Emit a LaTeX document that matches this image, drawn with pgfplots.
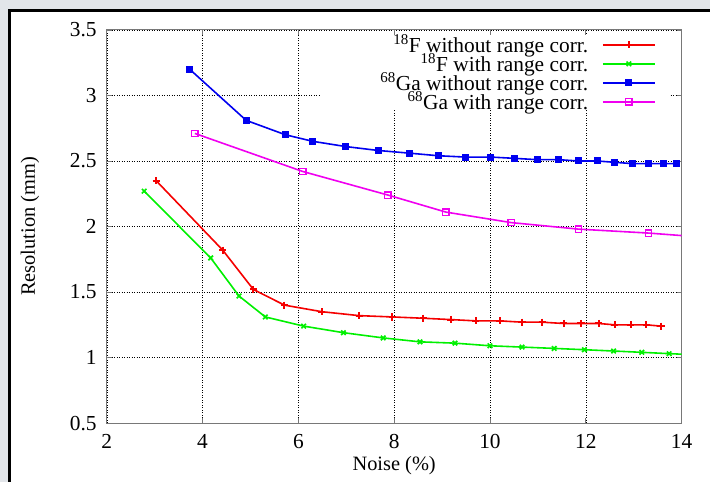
\documentclass[border=0pt]{standalone}
\usepackage{fontspec}
\setmainfont{Liberation Serif}
\usepackage{pgfplots}
\pgfplotsset{compat=1.18}

\definecolor{bggray}{RGB}{226,229,233}
\definecolor{gpred}{RGB}{245,0,0}
\definecolor{gpgreen}{RGB}{0,240,0}
\definecolor{gpblue}{RGB}{0,0,240}
\definecolor{gpmag}{RGB}{240,0,240}
\definecolor{boxgray}{RGB}{120,120,120}

\newcommand{\tickfont}{\fontsize{21.5}{21.5}\selectfont}
\newcommand{\lblfont}{\fontsize{20.5}{20.5}\selectfont}
\newcommand{\keyfont}{\fontsize{21.5}{21.5}\selectfont}

\begin{document}
\begin{tikzpicture}[x=1bp,y=1bp]
% page background and framed panel
\fill[bggray] (0,0) rectangle (711,483);
\fill[white] (10,0) rectangle (711,472);
\draw[line width=3bp] (10,0) -- (10,472) -- (711,472);

\begin{axis}[
  at={(107bp,59bp)}, anchor=south west,
  scale only axis, width=576bp, height=394bp,
  xmin=2, xmax=14, ymin=0.5, ymax=3.5,
  xtick={2,4,...,14}, ytick={0.5,1,...,3.5},
  axis line style={boxgray, line width=0.9bp},
  tick style={boxgray, line width=0.8bp},
  major tick length=5bp, tick align=inside,
  grid=major,
  major grid style={black, line width=0.5bp, dash pattern=on 1bp off 1.5bp},
  /pgf/number format/assume math mode=true,
  ticklabel style={font=\tickfont, inner sep=0pt},
  yticklabel style={xshift=-10bp},
  xticklabel style={yshift=-11bp},
  legend cell align=right, legend plot pos=right,
  legend image code/.code={
    \draw[mark repeat=2, mark phase=2, #1]
      plot coordinates {(0bp,0bp) (26bp,0bp) (52bp,0bp)};},
  legend style={draw=none, fill=none, at={(1,1)}, anchor=north east,
    xshift=-26bp, yshift=-5.5bp, inner sep=0pt, outer sep=0pt,
    font=\keyfont, row sep=0pt, /tikz/column sep=14bp,
    nodes={inner sep=0pt, text height=17bp, text depth=2bp}},
]

% 18F without range correction
\addplot[gpred, line width=1.6bp, mark=+, mark size=3.6bp,
  mark options={line width=2bp}] coordinates {
  (3.03,2.35) (4.42,1.82) (5.06,1.52) (5.71,1.40) (6.49,1.35)
  (7.27,1.32) (7.96,1.31) (8.61,1.30) (9.18,1.29) (9.70,1.28)
  (10.21,1.28) (10.67,1.27) (11.09,1.27) (11.54,1.26) (11.90,1.26)
  (12.27,1.26) (12.60,1.25) (12.94,1.25) (13.26,1.25) (13.57,1.24)};
\addlegendentry{\textsuperscript{18}F without range corr.}

% 18F with range correction
\addplot[gpgreen, line width=1.6bp, mark=x, mark size=3.2bp,
  mark options={line width=1.7bp}] coordinates {
  (2.78,2.27) (4.17,1.76) (4.76,1.47) (5.31,1.31) (6.11,1.24)
  (6.94,1.19) (7.77,1.15) (8.54,1.12) (9.27,1.11) (10.00,1.09)
  (10.67,1.08) (11.34,1.07) (11.97,1.06) (12.58,1.05) (13.17,1.04)
  (13.74,1.03) (14.35,1.02)};
\addlegendentry{\textsuperscript{18}F with range corr.}

% 68Ga without range correction
\addplot[gpblue, line width=1.6bp, mark=square*, mark size=2.7bp] coordinates {
  (3.73,3.20) (4.91,2.81) (5.73,2.70) (6.30,2.65) (6.99,2.61)
  (7.67,2.58) (8.31,2.56) (8.92,2.54) (9.48,2.53) (10.01,2.53)
  (10.52,2.52) (10.99,2.51) (11.43,2.51) (11.85,2.50) (12.24,2.50)
  (12.60,2.49) (12.97,2.48) (13.30,2.48) (13.63,2.48) (13.90,2.48)};
\addlegendentry{\textsuperscript{68}Ga without range corr.}

% 68Ga with range correction
\addplot[gpmag, line width=1.6bp, mark=square, mark size=3.2bp,
  mark options={line width=1.4bp}] coordinates {
  (3.84,2.71) (6.09,2.42) (7.87,2.24) (9.08,2.11) (10.44,2.03)
  (11.85,1.98) (13.31,1.95) (14.75,1.91)};
\addlegendentry{\textsuperscript{68}Ga with range corr.}

% key area is kept clear of the grid
\fill[white] (axis cs:6.479,2.891) rectangle (axis cs:13.729,3.462);
\end{axis}

\node[font=\lblfont] at (395,16) {Noise (\%)};
\node[font=\lblfont, rotate=90] at (30,256) {Resolution (mm)};
\end{tikzpicture}
\end{document}
